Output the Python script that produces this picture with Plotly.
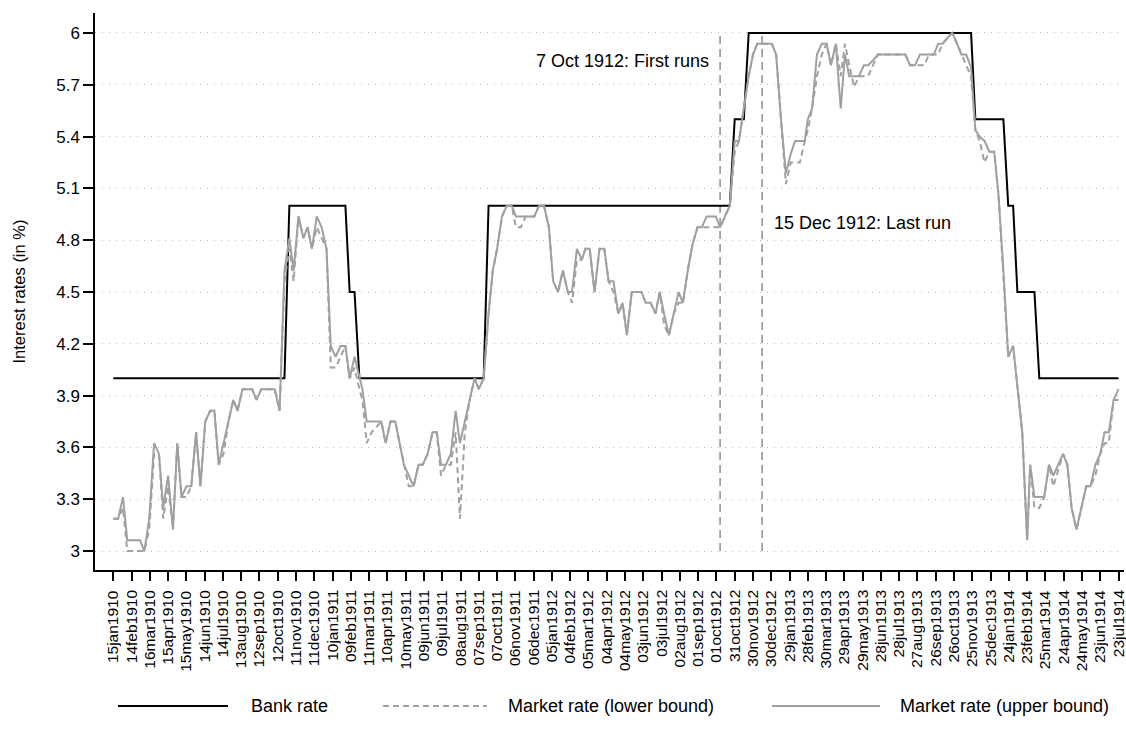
from datetime import datetime

import plotly.graph_objects as go

# ---------------------------------------------------------------------------
# Data: official bank rate and the open-market rate (lower / upper bound), in %
# Observations fall on the 7th, 15th, 23rd and last day of each month.
# ---------------------------------------------------------------------------
bank_dates = [
    "1910-01-15", "1910-10-23", "1910-10-31", "1911-01-31", "1911-02-07",
    "1911-02-15", "1911-02-23", "1911-09-15", "1911-09-23", "1912-10-23",
    "1912-10-31", "1912-11-15", "1912-11-23", "1913-11-23", "1913-11-30",
    "1914-01-15", "1914-01-23", "1914-01-31", "1914-02-07", "1914-03-07",
    "1914-03-15", "1914-07-23",
]
bank_rate = [
    4.0, 4.0, 5.0, 5.0, 4.5,
    4.5, 4.0, 4.0, 5.0, 5.0,
    5.5, 5.5, 6.0, 6.0, 5.5,
    5.5, 5.0, 5.0, 4.5, 4.5,
    4.0, 4.0,
]

market_dates = [
    # 1910
    "1910-01-15", "1910-01-23", "1910-01-31", "1910-02-07", "1910-02-28",
    "1910-03-07", "1910-03-15", "1910-03-23", "1910-03-31", "1910-04-07",
    "1910-04-15", "1910-04-23", "1910-04-30", "1910-05-07", "1910-05-15",
    "1910-05-23", "1910-05-31", "1910-06-07", "1910-06-15", "1910-06-23",
    "1910-06-30", "1910-07-07", "1910-07-15", "1910-07-23", "1910-07-31",
    "1910-08-07", "1910-08-15", "1910-08-31", "1910-09-07", "1910-09-15",
    "1910-10-07", "1910-10-15", "1910-10-23", "1910-10-31", "1910-11-07",
    "1910-11-15", "1910-11-23", "1910-11-30", "1910-12-07", "1910-12-15",
    "1910-12-23", "1910-12-31",
    # 1911
    "1911-01-07", "1911-01-15", "1911-01-23", "1911-01-31", "1911-02-07",
    "1911-02-15", "1911-02-23", "1911-02-28", "1911-03-07", "1911-03-15",
    "1911-03-31", "1911-04-07", "1911-04-15", "1911-04-23", "1911-04-30",
    "1911-05-07", "1911-05-15", "1911-05-23", "1911-05-31", "1911-06-07",
    "1911-06-15", "1911-06-23", "1911-06-30", "1911-07-07", "1911-07-15",
    "1911-07-23", "1911-07-31", "1911-08-07", "1911-08-15", "1911-08-23",
    "1911-08-31", "1911-09-07", "1911-09-15", "1911-09-23", "1911-09-30",
    "1911-10-07", "1911-10-15", "1911-10-23", "1911-10-31", "1911-11-07",
    "1911-11-15", "1911-11-23", "1911-12-07", "1911-12-15", "1911-12-23",
    "1911-12-31",
    # 1912
    "1912-01-07", "1912-01-15", "1912-01-23", "1912-01-31", "1912-02-07",
    "1912-02-15", "1912-02-23", "1912-02-29", "1912-03-07", "1912-03-15",
    "1912-03-23", "1912-03-31", "1912-04-07", "1912-04-15", "1912-04-23",
    "1912-04-30", "1912-05-07", "1912-05-15", "1912-05-31", "1912-06-07",
    "1912-06-15", "1912-06-23", "1912-06-30", "1912-07-07", "1912-07-15",
    "1912-07-23", "1912-07-31", "1912-08-07", "1912-08-15", "1912-08-23",
    "1912-08-31", "1912-09-07", "1912-09-15", "1912-09-30", "1912-10-07",
    "1912-10-15", "1912-10-23", "1912-10-31", "1912-11-07", "1912-11-15",
    "1912-11-23", "1912-11-30", "1912-12-07", "1912-12-31",
    # 1913
    "1913-01-07", "1913-01-15", "1913-01-23", "1913-01-31", "1913-02-07",
    "1913-02-15", "1913-02-23", "1913-02-28", "1913-03-07", "1913-03-15",
    "1913-03-23", "1913-03-31", "1913-04-07", "1913-04-15", "1913-04-23",
    "1913-04-30", "1913-05-07", "1913-05-15", "1913-05-23", "1913-05-31",
    "1913-06-07", "1913-06-15", "1913-06-23", "1913-08-07", "1913-08-15",
    "1913-08-23", "1913-08-31", "1913-09-07", "1913-09-15", "1913-09-23",
    "1913-09-30", "1913-10-07", "1913-10-15", "1913-10-23", "1913-10-31",
    "1913-11-07", "1913-11-15", "1913-11-23", "1913-11-30", "1913-12-07",
    "1913-12-15", "1913-12-23", "1913-12-31",
    # 1914
    "1914-01-07", "1914-01-15", "1914-01-23", "1914-01-31", "1914-02-15",
    "1914-02-23", "1914-02-28", "1914-03-07", "1914-03-15", "1914-03-23",
    "1914-03-31", "1914-04-07", "1914-04-23", "1914-04-30", "1914-05-07",
    "1914-05-15", "1914-05-23", "1914-05-31", "1914-06-07", "1914-06-15",
    "1914-06-23", "1914-06-30", "1914-07-07", "1914-07-15", "1914-07-23",
]

market_upper = [
    # 1910
    3.1875, 3.1875, 3.3125, 3.0625, 3.0625, 3.0, 3.1875, 3.625, 3.5625,
    3.25, 3.4375, 3.125, 3.625, 3.3125, 3.375, 3.375, 3.6875, 3.375, 3.75,
    3.8125, 3.8125, 3.5, 3.625, 3.75, 3.875, 3.8125, 3.9375, 3.9375, 3.875,
    3.9375, 3.9375, 3.8125, 4.625, 4.8125, 4.625, 4.9375, 4.8125, 4.875,
    4.75, 4.9375, 4.875, 4.75,
    # 1911
    4.1875, 4.125, 4.1875, 4.1875, 4.0, 4.125, 4.0, 3.9375, 3.75, 3.75,
    3.75, 3.625, 3.75, 3.75, 3.625, 3.5, 3.4375, 3.375, 3.5, 3.5, 3.5625,
    3.6875, 3.6875, 3.5, 3.5, 3.5625, 3.8125, 3.625, 3.75, 3.875, 4.0,
    3.9375, 4.0, 4.375, 4.625, 4.75, 4.9375, 5.0, 5.0, 4.9375, 4.9375,
    4.9375, 4.9375, 5.0, 5.0, 4.875,
    # 1912
    4.5625, 4.5, 4.625, 4.5, 4.5, 4.75, 4.6875, 4.75, 4.75, 4.5, 4.75,
    4.75, 4.5625, 4.5625, 4.375, 4.4375, 4.25, 4.5, 4.5, 4.4375, 4.4375,
    4.375, 4.5, 4.375, 4.25, 4.375, 4.5, 4.4375, 4.625, 4.78, 4.875,
    4.875, 4.9375, 4.9375, 4.875, 4.9375, 5.0, 5.375, 5.375, 5.5625, 5.75,
    5.875, 5.9375, 5.9375,
    # 1913
    5.875, 5.5, 5.1875, 5.3, 5.375, 5.375, 5.375, 5.5, 5.5625, 5.875,
    5.9375, 5.9375, 5.8125, 5.9375, 5.5625, 5.875, 5.75, 5.75, 5.75,
    5.8125, 5.8125, 5.84, 5.875, 5.875, 5.8125, 5.8125, 5.875, 5.875,
    5.875, 5.875, 5.9375, 5.9375, 5.97, 6.0, 5.9375, 5.875, 5.875, 5.8,
    5.4375, 5.4, 5.375, 5.3125, 5.3125,
    # 1914
    5.0625, 4.625, 4.125, 4.1875, 3.6875, 3.0625, 3.5, 3.3125, 3.3125,
    3.3125, 3.5, 3.4375, 3.5625, 3.5, 3.25, 3.125, 3.25, 3.375, 3.375, 3.5,
    3.5625, 3.6875, 3.6875, 3.875, 3.9375,
]

market_lower = [
    # 1910
    3.1875, 3.1875, 3.25, 3.0, 3.0, 3.0, 3.125, 3.5625, 3.5625,
    3.1875, 3.375, 3.125, 3.625, 3.3125, 3.3125, 3.375, 3.6875, 3.375, 3.75,
    3.8125, 3.8125, 3.5, 3.5625, 3.75, 3.875, 3.8125, 3.9375, 3.9375, 3.875,
    3.9375, 3.9375, 3.8125, 4.5625, 4.75, 4.5625, 4.9375, 4.8125, 4.875,
    4.75, 4.875, 4.8125, 4.75,
    # 1911
    4.0625, 4.0625, 4.125, 4.1875, 4.0, 4.0625, 3.9375, 3.875, 3.625, 3.6875,
    3.75, 3.625, 3.75, 3.75, 3.625, 3.5, 3.375, 3.375, 3.5, 3.5, 3.5625,
    3.6875, 3.6875, 3.4375, 3.5, 3.5, 3.6875, 3.1875, 3.6875, 3.875, 4.0,
    3.9375, 4.0, 4.375, 4.625, 4.75, 4.9375, 5.0, 5.0, 4.875, 4.875,
    4.9375, 4.9375, 5.0, 5.0, 4.875,
    # 1912
    4.5625, 4.5, 4.625, 4.5, 4.4375, 4.6875, 4.6875, 4.75, 4.75, 4.5, 4.75,
    4.75, 4.5625, 4.5, 4.375, 4.4375, 4.25, 4.5, 4.5, 4.4375, 4.4375,
    4.375, 4.5, 4.3125, 4.25, 4.375, 4.4375, 4.4375, 4.625, 4.78, 4.875,
    4.875, 4.875, 4.875, 4.875, 4.9375, 5.0, 5.3125, 5.375, 5.5625, 5.75,
    5.875, 5.9375, 5.9375,
    # 1913
    5.875, 5.5, 5.125, 5.25, 5.25, 5.25, 5.375, 5.4375, 5.5625, 5.75,
    5.875, 5.9375, 5.8125, 5.9375, 5.75, 5.9375, 5.8125, 5.6875, 5.75,
    5.75, 5.75, 5.8125, 5.875, 5.875, 5.8125, 5.8125, 5.8125, 5.8125,
    5.875, 5.875, 5.875, 5.9375, 5.97, 6.0, 5.9375, 5.875, 5.8125, 5.75,
    5.4375, 5.375, 5.25, 5.3125, 5.3125,
    # 1914
    5.0625, 4.625, 4.125, 4.1875, 3.6875, 3.0625, 3.5, 3.25, 3.25,
    3.3125, 3.5, 3.375, 3.5625, 3.5, 3.25, 3.125, 3.25, 3.375, 3.375, 3.4375,
    3.5625, 3.625, 3.625, 3.875, 3.875,
]

# Key dates of the bank runs
event_dates = ["1912-10-07", "1912-12-15"]
event_labels = ["7 Oct 1912: First runs", "15 Dec 1912: Last run"]
event_label_y = [5.84, 4.9]

# Axis tick labels
x_tick_labels = [
    "15jan1910", "14feb1910", "16mar1910", "15apr1910", "15may1910", "14jun1910",
    "14jul1910", "13aug1910", "12sep1910", "12oct1910", "11nov1910", "11dec1910",
    "10jan1911", "09feb1911", "11mar1911", "10apr1911", "10may1911", "09jun1911",
    "09jul1911", "08aug1911", "07sep1911", "07oct1911", "06nov1911", "06dec1911",
    "05jan1912", "04feb1912", "05mar1912", "04apr1912", "04may1912", "03jun1912",
    "03jul1912", "02aug1912", "01sep1912", "01oct1912", "31oct1912", "30nov1912",
    "30dec1912", "29jan1913", "28feb1913", "30mar1913", "29apr1913", "29may1913",
    "28jun1913", "28jul1913", "27aug1913", "26sep1913", "26oct1913", "25nov1913",
    "25dec1913", "24jan1914", "23feb1914", "25mar1914", "24apr1914", "24may1914",
    "23jun1914", "23jul1914",
]
y_tick_values = [3.0, 3.3, 3.6, 3.9, 4.2, 4.5, 4.8, 5.1, 5.4, 5.7, 6.0]
y_tick_labels = ["3", "3.3", "3.6", "3.9", "4.2", "4.5", "4.8", "5.1", "5.4", "5.7", "6"]

series_names = ["Bank rate", "Market rate (lower bound)", "Market rate (upper bound)"]

assert len(bank_dates) == len(bank_rate)
assert len(market_dates) == len(market_upper) == len(market_lower)

x_tick_dates = [datetime.strptime(s, "%d%b%Y") for s in x_tick_labels]

# ---------------------------------------------------------------------------
# Styling
# ---------------------------------------------------------------------------
FONT = "Liberation Sans, Arial, Helvetica, sans-serif"
BLACK = "#000000"
GREY = "rgb(160,160,160)"
EVENT_GREY = "rgb(125,125,125)"

W, H = 1126, 740
M_L, M_R, M_T, M_B = 95, 2, 13, 170
PLOT_W = W - M_L - M_R
PLOT_H = H - M_T - M_B


def paper_x(px):
    return (px - M_L) / PLOT_W


def paper_y(py):
    return (H - M_B - py) / PLOT_H


line_styles = [
    dict(color=BLACK, width=2),
    dict(color=GREY, width=2, dash="6px,4px"),
    dict(color=GREY, width=2),
]

fig = go.Figure()
fig.add_trace(go.Scatter(x=bank_dates, y=bank_rate, mode="lines",
                         name=series_names[0], line=line_styles[0]))
fig.add_trace(go.Scatter(x=market_dates, y=market_lower, mode="lines",
                         name=series_names[1], line=line_styles[1]))
fig.add_trace(go.Scatter(x=market_dates, y=market_upper, mode="lines",
                         name=series_names[2], line=line_styles[2]))

shapes = []
annotations = []

# Event markers: dashed vertical lines with their labels
for i, (d, label, ly) in enumerate(zip(event_dates, event_labels, event_label_y)):
    shapes.append(dict(type="line", xref="x", yref="y", x0=d, x1=d,
                       y0=y_tick_values[0], y1=y_tick_values[-1],
                       line=dict(color=EVENT_GREY, width=1.3, dash="8px,5px"),
                       layer="below"))
    annotations.append(dict(x=d, y=ly, xref="x", yref="y", text=label,
                            showarrow=False,
                            xanchor="right" if i == 0 else "left",
                            xshift=-9 if i == 0 else 10,
                            yanchor="middle",
                            font=dict(family=FONT, size=18, color=BLACK)))

# Rotated date labels under the tick marks: fixed-size boxes, text flush to
# the end nearest the axis so that every label starts at the same height
for d, label in zip(x_tick_dates, x_tick_labels):
    annotations.append(dict(x=d, y=0, xref="x", yref="paper", text=label,
                            textangle=-90, showarrow=False,
                            width=82, height=17, align="right", valign="middle",
                            borderpad=0,
                            xanchor="center", yanchor="top",
                            xshift=-1, yshift=-19,
                            font=dict(family=FONT, size=15.5, color=BLACK)))

# Y-axis title
annotations.append(dict(x=paper_x(18), y=0.5, xref="paper", yref="paper",
                        text="Interest rates (in %)", textangle=-90,
                        showarrow=False, xanchor="center", yanchor="middle",
                        font=dict(family=FONT, size=16.5, color=BLACK)))

# Legend row below the axis (long line keys)
legend_y = 706
legend_keys = [(118, 228), (383, 487), (772, 880)]
legend_text_x = [249, 506, 898]
for (k0, k1), tx, name, st in zip(legend_keys, legend_text_x, series_names, line_styles):
    shapes.append(dict(type="line", xref="paper", yref="paper",
                       x0=paper_x(k0), x1=paper_x(k1),
                       y0=paper_y(legend_y), y1=paper_y(legend_y),
                       line=st))
    annotations.append(dict(x=paper_x(tx), y=paper_y(legend_y), xref="paper",
                            yref="paper", text=name, showarrow=False,
                            xanchor="left", yanchor="middle",
                            font=dict(family=FONT, size=18, color=BLACK)))

fig.update_layout(
    width=W, height=H,
    margin=dict(l=M_L, r=M_R, t=M_T, b=M_B, autoexpand=False),
    paper_bgcolor="white", plot_bgcolor="white",
    showlegend=False,
    font=dict(family=FONT, size=16, color=BLACK),
    shapes=shapes, annotations=annotations,
)

fig.update_xaxes(
    type="date",
    range=["1909-12-16", "1914-08-01"],
    tickmode="array", tickvals=x_tick_dates, showticklabels=False,
    ticks="outside", ticklen=9, tickwidth=1.5, tickcolor=BLACK,
    showline=True, linecolor=BLACK, linewidth=1.5,
    showgrid=False, zeroline=False,
)
fig.update_yaxes(
    range=[2.8905, 6.1155],
    tickmode="array", tickvals=y_tick_values, ticktext=y_tick_labels,
    ticks="outside", ticklen=10, tickwidth=1.5, tickcolor=BLACK,
    tickfont=dict(family=FONT, size=17, color=BLACK),
    showline=True, linecolor=BLACK, linewidth=1.5,
    showgrid=True, gridcolor="rgb(185,185,185)", gridwidth=1, griddash="1px,6px",
    zeroline=False,
)

fig.write_html("out.html")
